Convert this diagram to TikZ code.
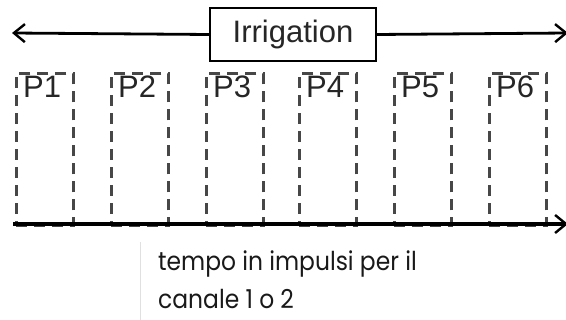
\documentclass[tikz,border=0pt]{standalone}
\usepackage{fontspec}
\setmainfont{Liberation Sans}
\newfontfamily\capfont[FakeStretch=0.9]{Poppins}
\usetikzlibrary{arrows.meta}
\begin{document}
\begin{tikzpicture}[x=1pt,y=-1pt,
  barb/.style={-{Straight Barb[length=11pt,width=18pt,line width=2.4pt]}},
  pbox/.style={draw=black!72, line width=2.6pt, dash pattern=on 11pt off 7pt, minimum width=57pt, minimum height=152pt, anchor=north west, inner sep=0pt},
  plabel/.style={font=\fontsize{31}{32}\selectfont, text=black!85, anchor=north west, inner sep=0pt},
  irrbox/.style={draw, line width=2pt, fill=white, minimum width=166pt, minimum height=53pt, inner sep=0pt, font=\fontsize{31}{32}\selectfont, text=black!85}]
\useasboundingbox (0,0) rectangle (566,320);
% P boxes
\foreach \i/\x in {1/15,2/110,3/205,4/298,5/393,6/488}{
  \node[pbox] (p\i) at (\x,72) {};
  \node[plabel] (pl\i) at (\x+8,76) {P\i};
}
% top arrow with box
\node[irrbox] (irr) at (293,34.5) {Irrigation};
\coordinate (tl) at (12,33);
\coordinate (tr) at (568,33);
\draw[barb, line width=2.8pt] (irr.west) -- (tl);
\draw[barb, line width=2.8pt] (irr.east) -- (tr);
% axis
\coordinate (a0) at (13,224);
\coordinate (a1) at (568,224);
\draw[barb, line width=3.2pt] (a0) -- (a1);
% faint line
\coordinate (g0) at (140,242);
\coordinate (g1) at (140,320);
\draw[black!12, line width=0.8pt] (g0) -- (g1);
% caption
\node[anchor=north west, align=left, inner sep=0pt, font=\capfont\fontsize{26}{38}\selectfont, text=black!90] (cap) at (158,251) {tempo in impulsi per il\\canale 1 o 2};
\end{tikzpicture}
\end{document}
